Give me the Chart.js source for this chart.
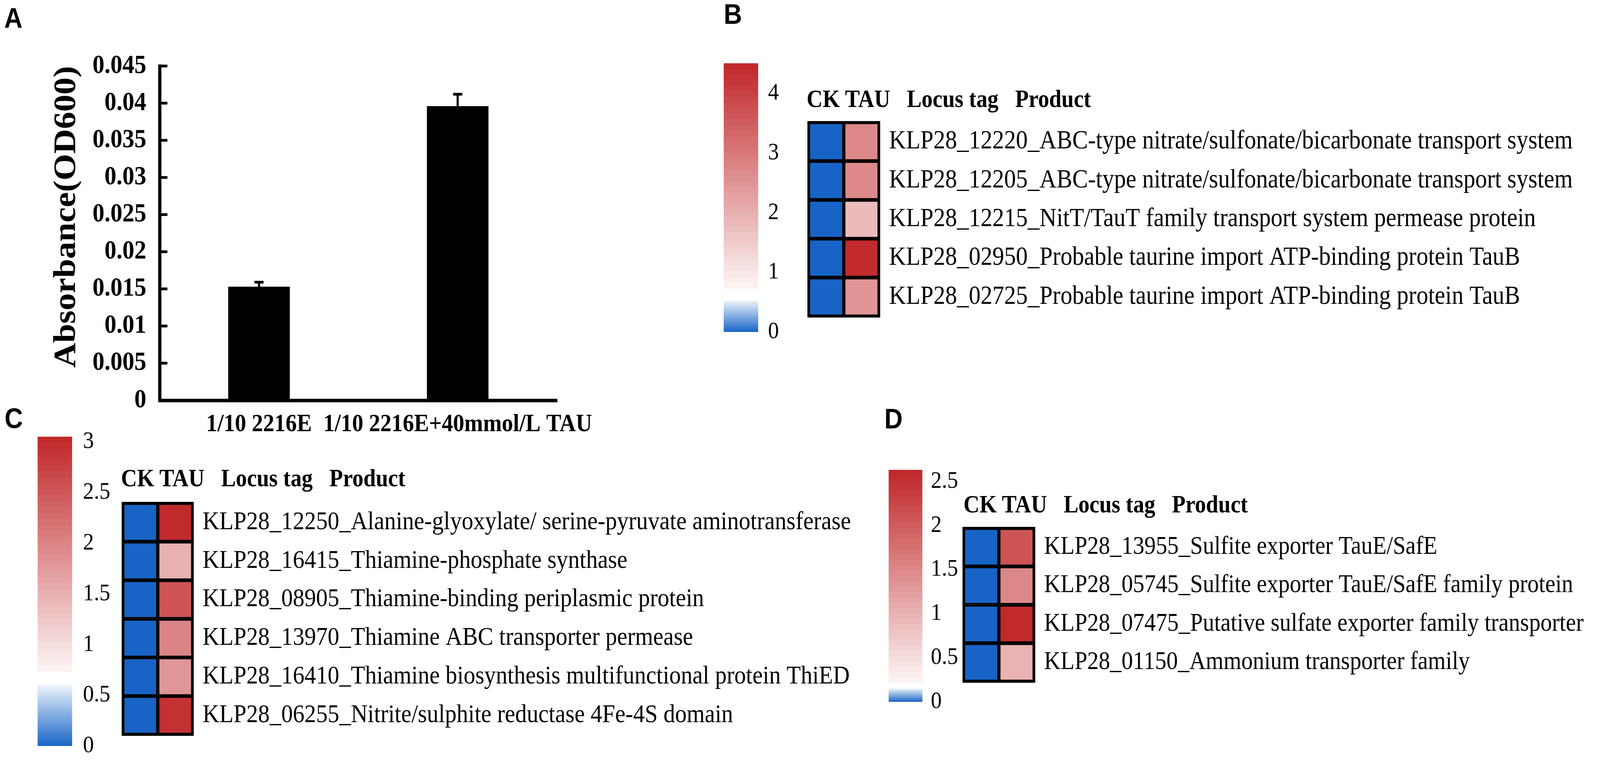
<!DOCTYPE html>
<html>
<head>
<title>Taurine | Absorbance and expression</title>
<style>
html, body { margin:0; padding:0; background:#fff; overflow:hidden; }
#frame { position:relative; overflow:hidden; width:4550px; height:1951px; }
#page { position:absolute; left:0; top:0; width:4550px; height:1951px; overflow:hidden; background:#fff; transform-origin:0 0; }
canvas { position:absolute; }
.tag { position:absolute; font-family:'Liberation Sans', Arial, sans-serif; font-weight:bold; font-size:72px; line-height:1; color:#000; }
.head { position:absolute; font-family:'Liberation Serif', 'Times New Roman', serif; font-weight:bold; font-size:63px; line-height:1; white-space:pre; color:#000; }
</style>
</head>
<body>
<div id="frame">
<div id="page">
    <div class="tag" style="left:12px;top:10px">A</div>
    <div class="tag" style="left:2058px;top:0px">B</div>
    <div class="tag" style="left:13px;top:1035px">C</div>
    <div class="tag" style="left:2515px;top:1036px">D</div>

    <canvas id="barA" width="1750" height="1160" style="left:0;top:0"></canvas>

    <canvas id="barB" width="260" height="760" style="left:2000px;top:140px"></canvas>
    <canvas id="heatB" width="2300" height="560" style="left:2250px;top:290px"></canvas>
    <div class="head" id="headB" style="top:222px"></div>

    <canvas id="barC" width="260" height="851" style="left:60px;top:1100px"></canvas>
    <canvas id="heatC" width="2200" height="660" style="left:300px;top:1260px"></canvas>
    <div class="head" id="headC" style="top:1193px"></div>

    <canvas id="barD" width="260" height="660" style="left:2470px;top:1180px"></canvas>
    <canvas id="heatD" width="1850" height="460" style="left:2700px;top:1330px"></canvas>
    <div class="head" id="headD" style="top:1260px"></div>
</div>
</div>

<script src="https://cdn.jsdelivr.net/npm/chart.js"></script>
<script>
    var SERIF = "'Liberation Serif', 'Times New Roman', serif"
    var PAGE_W = 4550, PAGE_H = 1951

    // panel A: growth
    var groups = ['1/10 2216E', '1/10 2216E+40mmol/L TAU']
    var absorbance = [0.0153, 0.0396]
    var absErr = [0.0006, 0.0016]
    var absTicks = [0, 0.005, 0.01, 0.015, 0.02, 0.025, 0.03, 0.035, 0.04, 0.045]

    // heatmap columns and header
    var columns = ['CK', 'TAU']
    var headers = ['Locus tag', 'Product']

    // panel B
    var tagsB = ['KLP28_12220', 'KLP28_12205', 'KLP28_12215', 'KLP28_02950', 'KLP28_02725']
    var productsB = ['ABC-type nitrate/sulfonate/bicarbonate transport system',
        'ABC-type nitrate/sulfonate/bicarbonate transport system',
        'NitT/TauT family transport system permease protein',
        'Probable taurine import ATP-binding protein TauB',
        'Probable taurine import ATP-binding protein TauB']
    var ckB = [0, 0, 0, 0, 0]
    var tauB = [2.7, 2.7, 1.8, 4.4, 2.5]
    var ticksB = [0, 1, 2, 3, 4]
    var rangeB = { blueTop: 0.52, redBottom: 0.73, max: 4.5 }

    // panel C
    var tagsC = ['KLP28_12250', 'KLP28_16415', 'KLP28_08905', 'KLP28_13970', 'KLP28_16410', 'KLP28_06255']
    var productsC = ['Alanine-glyoxylate/ serine-pyruvate aminotransferase',
        'Thiamine-phosphate synthase',
        'Thiamine-binding periplasmic protein',
        'Thiamine ABC transporter permease',
        'Thiamine biosynthesis multifunctional protein ThiED',
        'Nitrite/sulphite reductase 4Fe-4S domain']
    var ckC = [0, 0, 0, 0, 0, 0]
    var tauC = [3.0, 1.5, 2.55, 2.0, 1.8, 2.93]
    var ticksC = [0, 0.5, 1, 1.5, 2, 2.5, 3]
    var rangeC = { blueTop: 0.6, redBottom: 0.73, max: 3.05 }

    // panel D
    var tagsD = ['KLP28_13955', 'KLP28_05745', 'KLP28_07475', 'KLP28_01150']
    var productsD = ['Sulfite exporter TauE/SafE',
        'Sulfite exporter TauE/SafE family protein',
        'Putative sulfate exporter family transporter',
        'Ammonium transporter family']
    var ckD = [0, 0, 0, 0]
    var tauD = [2.1, 1.5, 2.6, 1.0]
    var ticksD = [0, 0.5, 1, 1.5, 2, 2.5]
    var rangeD = { blueTop: 0.15, redBottom: 0.22, max: 2.63 }

    // stretch the 4550x1951 figure over the whole window, whatever its css size is
    var sx = window.innerWidth / PAGE_W, sy = window.innerHeight / PAGE_H
    if (Math.abs(sx - 1) > 0.002 || Math.abs(sy - 1) > 0.002) {
        document.getElementById('page').style.transform = 'scale(' + sx + ',' + sy + ')'
        document.getElementById('frame').style.width = window.innerWidth + 'px'
        document.getElementById('frame').style.height = window.innerHeight + 'px'
    }

    Chart.defaults.animation = false
    Chart.defaults.plugins.legend.display = false
    Chart.defaults.plugins.tooltip.enabled = false
    Chart.defaults.color = '#000'

    // blue -> white | white -> red
    function cmap(v, r) {
        var a, b, t
        if (v <= r.blueTop) { a = [24, 100, 198]; b = [236, 243, 251]; t = v / r.blueTop }
        else if (v < r.redBottom) { return 'rgb(255,255,255)' }
        else { a = [252, 245, 245]; b = [192, 38, 40]; t = (v - r.redBottom) / (r.max - r.redBottom) }
        t = Math.max(0, Math.min(1, t))
        return 'rgb(' + a.map((x, i) => Math.round(x + (b[i] - x) * t)).join(',') + ')'
    }

    // banded gradient like the exported colour key
    function grad(c, r, lo, hi) {
        var chart = c.chart, y = chart.scales.y
        if (!chart.chartArea || !y) return cmap(hi, r)
        var g = chart.ctx.createLinearGradient(0, y.getPixelForValue(lo), 0, y.getPixelForValue(hi))
        var n = 40
        for (var i = 0; i < n; i++) {
            var col = cmap(lo + (hi - lo) * (i + 0.5) / n, r)
            g.addColorStop(i / n, col)
            g.addColorStop((i + 1) / n, col)
        }
        return g
    }

    function noPad(s) { s.paddingTop = 0; s.paddingBottom = 0; s.paddingLeft = 0; s.paddingRight = 0 }

    // thicker outline round the whole heatmap
    var frameBox = {
        id: 'frameBox',
        afterDatasetsDraw(chart) {
            var a = chart.chartArea, c = chart.ctx
            c.save()
            c.strokeStyle = '#000'
            c.lineWidth = 6
            c.strokeRect(a.left, a.top, a.right - a.left, a.bottom - a.top)
            c.restore()
        }
    }

    function colorbar(id, r, ticks, pad, axisW, tickPad) {
        new Chart(document.getElementById(id), {
            type: 'bar',
            data: {
                labels: [''],
                datasets: [
                    { data: [[0, r.blueTop]], backgroundColor: c => grad(c, r, 0, r.blueTop) },
                    { data: [[r.redBottom, r.max]], backgroundColor: c => grad(c, r, r.redBottom, r.max) }
                ]
            },
            options: {
                responsive: false,
                devicePixelRatio: 1,
                layout: { padding: pad },
                datasets: { bar: { grouped: false, barPercentage: 1, categoryPercentage: 1, borderWidth: 0 } },
                scales: {
                    x: { display: false },
                    y: {
                        position: 'right', min: 0, max: r.max,
                        grid: { display: false, drawTicks: false },
                        border: { display: false },
                        afterBuildTicks: s => { s.ticks = ticks.map(v => ({ value: v })) },
                        ticks: { padding: tickPad, color: '#000', font: { family: SERIF, size: 62 }, callback: v => String(v) },
                        afterFit: s => { s.width = axisW; noPad(s) }
                    }
                }
            }
        })
    }

    function heatmap(id, tags, products, ck, tau, r, pad, axisW, fontSize) {
        var labels = tags.map((t, i) => t + '_' + products[i])
        var vals = [ck, tau]
        new Chart(document.getElementById(id), {
            type: 'bar',
            data: {
                labels: labels,
                datasets: columns.map((c, k) => ({
                    label: c,
                    data: labels.map(() => 1),
                    backgroundColor: vals[k].map(v => cmap(v, r)),
                    borderColor: '#000',
                    borderWidth: 5,
                    borderSkipped: false,
                    barPercentage: 1,
                    categoryPercentage: 1
                }))
            },
            options: {
                responsive: false,
                devicePixelRatio: 1,
                indexAxis: 'y',
                layout: { padding: pad },
                scales: {
                    x: { display: false, stacked: true, min: 0, max: 2 },
                    y: {
                        stacked: true, position: 'right',
                        grid: { display: false, drawTicks: false },
                        border: { display: false },
                        ticks: { autoSkip: false, padding: 28, color: '#000', font: { family: SERIF, size: fontSize } },
                        afterFit: s => { s.width = axisW; noPad(s) }
                    }
                }
            },
            plugins: [frameBox]
        })
    }

    function header(id, left, gaps) {
        var el = document.getElementById(id)
        el.style.left = left + 'px'
        el.textContent = columns.join(' ') + ' '.repeat(gaps[0]) + headers[0] + ' '.repeat(gaps[1]) + headers[1]
    }

    // inward tick marks on the y axis of panel A
    var tickMarks = {
        id: 'tickMarks',
        afterDraw(chart) {
            var y = chart.scales.y, a = chart.chartArea, c = chart.ctx
            c.save()
            c.strokeStyle = '#000'
            c.lineWidth = 7
            y.ticks.forEach(t => {
                if (t.value === 0) return
                var py = y.getPixelForValue(t.value)
                c.beginPath(); c.moveTo(a.left, py); c.lineTo(a.left + 22, py); c.stroke()
            })
            c.restore()
        }
    }

    var errorBars = {
        id: 'errorBars',
        afterDatasetsDraw(chart) {
            var y = chart.scales.y, c = chart.ctx
            chart.getDatasetMeta(0).data.forEach((bar, i) => {
                var top = y.getPixelForValue(absorbance[i] + absErr[i])
                c.save()
                c.strokeStyle = '#000'
                c.lineWidth = 6
                c.beginPath(); c.moveTo(bar.x, bar.y); c.lineTo(bar.x, top); c.stroke()
                c.lineWidth = 7
                c.beginPath(); c.moveTo(bar.x - 13, top); c.lineTo(bar.x + 13, top); c.stroke()
                c.restore()
            })
        }
    }

    new Chart(document.getElementById('barA'), {
        type: 'bar',
        data: {
            labels: groups,
            datasets: [{ data: absorbance, backgroundColor: '#000', barPercentage: 0.31, categoryPercentage: 1 }]
        },
        options: {
            responsive: false,
            devicePixelRatio: 1,
            layout: { padding: { top: 169, left: 0, right: 166, bottom: 0 } },
            scales: {
                x: {
                    grid: { display: false, drawTicks: false },
                    border: { display: true, color: '#000', width: 9 },
                    ticks: { color: '#000', padding: 24, maxRotation: 0, minRotation: 0, autoSkip: false,
                             font: { family: SERIF, size: 64, weight: 'bold' } },
                    afterFit: s => { s.height = 135; noPad(s) }
                },
                y: {
                    min: 0, max: 0.045,
                    grid: { display: false, drawTicks: false },
                    border: { display: true, color: '#000', width: 9 },
                    afterBuildTicks: s => { s.ticks = absTicks.map(v => ({ value: v })) },
                    ticks: { color: '#000', padding: 38, font: { family: SERIF, size: 68, weight: 'bold' },
                             callback: v => String(v) },
                    title: { display: true, text: 'Absorbance(OD600)', color: '#000', align: 'end',
                             font: { family: SERIF, size: 88, weight: 'bold' }, padding: { top: 137, bottom: 0 } },
                    afterFit: s => { s.width = 454; noPad(s) }
                }
            }
        },
        plugins: [tickMarks, errorBars]
    })

    colorbar('barB', rangeB, ticksB, { left: 58, top: 22, right: 0, bottom: 50 }, 104, 28)
    heatmap('heatB', tagsB, productsB, ckB, tauB, rangeB, { left: 49, top: 23, right: 0, bottom: 40 }, 2050, 67)
    header('headB', 2294, [3, 3])

    colorbar('barC', rangeC, ticksC, { left: 47, top: 18, right: 0, bottom: 41 }, 115, 31)
    heatmap('heatC', tagsC, productsC, ckC, tauC, rangeC, { left: 49, top: 28, right: 0, bottom: 39 }, 1952, 66)
    header('headC', 344, [3, 3])

    colorbar('barD', rangeD, ticksD, { left: 57, top: 23, right: 0, bottom: 43 }, 107, 24)
    heatmap('heatD', tagsD, productsD, ckD, tauD, rangeD, { left: 40, top: 22, right: 0, bottom: 45 }, 1609, 65)
    header('headD', 2740, [3, 3])
</script>
</body>
</html>
